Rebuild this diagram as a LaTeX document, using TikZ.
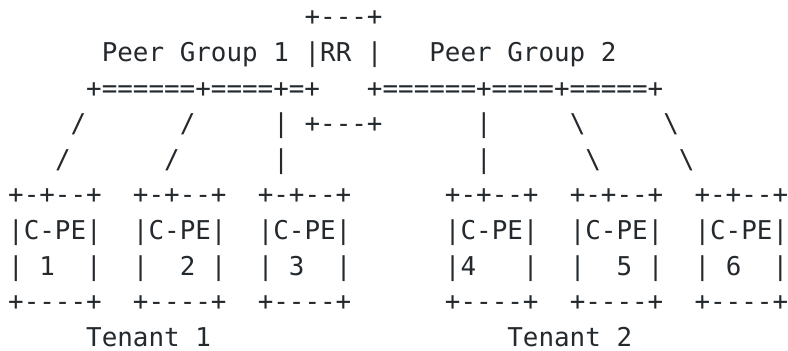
\documentclass[tikz,border=0pt]{standalone}
\usepackage{fontspec}
\setmonofont{DejaVu Sans Mono}
\definecolor{ink}{RGB}{36,41,46}

\begin{document}
\begin{tikzpicture}[x=15.6pt, y=35.6pt,
    txt/.style={anchor=base west, inner sep=0pt, outer sep=0pt, text=ink,
      text depth=0pt, font=\ttfamily\fontsize{25.9}{30}\selectfont}]
    % one unit in x is one character cell, one unit in y is one text line
    \useasboundingbox (-0.526,0.73) rectangle (49.99,-9.13);

    % Route reflector and the two peer groups
    \node[txt] (rrtop) at (19,0) {+---+};
    \node[txt] (pg1) at (6,-1) {Peer Group 1};
    \node[txt] (rr) at (19,-1) {|RR |};
    \node[txt] (pg2) at (27,-1) {Peer Group 2};
    \node[txt] (bus1) at (5,-2) {+======+====+=+};
    \node[txt] (bus2) at (23,-2) {+======+====+=====+};
    \node[txt] (rrbot) at (19,-3) {+---+};

    % Links down to the C-PEs
    \node[txt] (l1a) at (4,-3) {/};
    \node[txt] (l2a) at (11,-3) {/};
    \node[txt] (l3a) at (17,-3) {|};
    \node[txt] (l4a) at (30,-3) {|};
    \node[txt] (l5a) at (36,-3) {\textbackslash};
    \node[txt] (l6a) at (42,-3) {\textbackslash};
    \node[txt] (l1b) at (3,-4) {/};
    \node[txt] (l2b) at (10,-4) {/};
    \node[txt] (l3b) at (17,-4) {|};
    \node[txt] (l4b) at (30,-4) {|};
    \node[txt] (l5b) at (37,-4) {\textbackslash};
    \node[txt] (l6b) at (43,-4) {\textbackslash};

    % C-PE boxes
    \foreach \c [count=\i] in {0,8,16,28,36,44} {
        \node[txt] (cpetop\i) at (\c,-5) {+-+--+};
        \node[txt] (cpe\i) at (\c,-6) {|C-PE|};
        \node[txt] (cpel\i) at (\c,-7) {|};
        \node[txt] (cper\i) at (\c+5,-7) {|};
        \node[txt] (cpebot\i) at (\c,-8) {+----+};
    }
    \foreach \c/\n in {2/1, 11/2, 18/3, 29/4, 39/5, 46/6}
        \node[txt] (num\n) at (\c,-7) {\n};

    % Tenants
    \node[txt] (t1) at (5,-9) {Tenant 1};
    \node[txt] (t2) at (32,-9) {Tenant 2};
\end{tikzpicture}
\end{document}
